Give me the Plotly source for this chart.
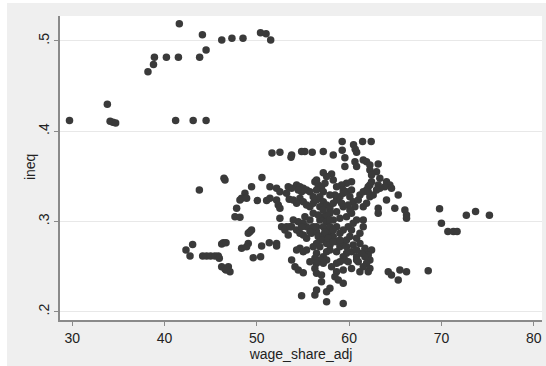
import plotly.graph_objects as go

# upper group
x_upper = [29.7, 33.8, 34.1, 34.4, 34.7, 38.2, 38.8, 38.9, 40.2, 41.6, 41.5, 41.2,
           43.1, 44.5, 43.8, 44.1, 44.5, 46.2, 47.3, 48.5, 50.4, 51.0, 51.5]
y_upper = [.412, .430, .411, .410, .409, .466, .474, .482, .482, .519, .482, .412,
           .412, .412, .482, .507, .490, .501, .503, .503, .509, .508, .501]

# main cluster
x_main = [59.25, 61.46, 62.39, 60.48, 60.66, 60.81, 59.25, 59.54, 58.28, 57.2, 56.0, 55.2,
          54.85, 53.77, 53.7, 52.5, 51.64, 61.53, 61.89, 62.25, 63.15, 60.63, 59.54, 60.81,
          62.25, 62.97, 62.43, 63.33, 57.2, 58.1, 46.44, 46.55, 50.55, 62.43, 62.25, 62.07,
          61.89, 64.05, 64.41, 64.59, 63.87, 65.32, 63.15, 63.33, 60.26, 59.72, 59.18, 58.64,
          59.36, 56.29, 56.65, 57.01, 56.47, 57.2, 57.38, 54.31, 54.67, 55.03, 55.39, 55.75,
          54.85, 54.49, 53.4, 53.77, 53.22, 53.51, 51.42, 52.14, 52.5, 49.43, 48.71, 48.35,
          48.17, 48.89, 50.05, 51.06, 51.42, 52.14, 52.32, 52.5, 47.81, 47.63, 48.17, 49.43,
          49.25, 49.07, 46.37, 46.19, 46.66, 48.35, 49.07, 48.89, 50.52, 51.35, 52.14, 52.14,
          42.32, 43.04, 42.76, 44.13, 44.56, 44.99, 45.46, 45.82, 45.93, 46.19, 46.55, 46.91,
          47.09, 46.66, 49.61, 50.41, 52.5, 52.68, 53.22, 53.77, 53.04, 53.4, 54.31, 54.67,
          55.03, 55.39, 55.93, 56.47, 56.65, 57.2, 57.56, 57.92, 58.28, 57.01, 57.56, 57.92,
          58.64, 56.47, 56.11, 55.39, 54.67, 54.31, 55.03, 56.47, 57.2, 56.29, 56.83, 57.56,
          57.92, 58.64, 59.0, 59.36, 59.72, 60.08, 60.26, 59.9, 60.44, 60.81, 61.53, 61.53,
          61.17, 60.81, 61.17, 61.71, 62.07, 62.43, 62.07, 62.25, 61.71, 61.35, 60.81, 60.26,
          59.72, 59.36, 59.54, 59.9, 60.99, 61.89, 62.25, 62.07, 61.17, 60.26, 59.36, 58.64,
          58.46, 58.82, 59.36, 57.2, 56.47, 56.29, 56.47, 53.77, 54.13, 54.49, 55.03, 57.01,
          57.92, 57.56, 56.47, 56.29, 57.56, 54.85, 59.36, 64.24, 64.59, 65.5, 66.22, 65.32,
          68.57, 54.67, 55.03, 55.39, 55.75, 56.11, 56.47, 56.83, 57.2, 57.56, 57.92, 58.28,
          58.64, 59.0, 59.36, 59.72, 60.08, 60.44, 60.63, 59.36, 58.64, 57.92, 57.2, 56.83,
          57.56, 58.28, 59.0, 59.72, 60.26, 56.11, 55.75, 55.39, 55.03, 54.49, 53.95, 53.58,
          56.47, 57.2, 57.92, 58.64, 59.36, 59.0, 58.28, 57.56, 61.53, 61.89, 62.25, 62.61,
          62.97, 61.17, 60.99, 61.53, 63.15, 63.15, 64.95, 66.04, 66.22, 66.22, 64.05, 57.56,
          56.47, 58.28, 56.83, 57.2, 56.65, 57.92, 57.38, 57.74, 58.28, 56.83, 57.56, 59.0,
          59.72, 60.44, 60.81, 56.11, 55.75, 54.85, 55.21, 56.11, 58.46, 59.18, 59.9, 60.08,
          62.07, 60.26, 57.92, 54.31, 53.95, 60.81, 61.53, 59.0, 58.1, 57.01, 58.64, 55.75,
          43.77, 69.8, 70.0, 70.7, 71.3, 71.7, 72.7, 73.7, 75.2]
y_main = [.3885, .3885, .3885, .385, .380, .3766, .379, .3707, .3737, .3774, .3766, .3774,
          .3774, .3737, .3711, .3766, .3759, .3682, .3663, .3626, .3637, .3663, .3608, .3608,
          .357, .3552, .3515, .3478, .3541, .3526, .3478, .346, .3486, .3441, .3404, .3386,
          .3349, .3441, .3404, .3367, .3386, .3293, .3404, .3367, .3441, .3423, .3404, .3386,
          .3349, .3441, .3404, .3386, .3349, .333, .3423, .3404, .3386, .3367, .3349, .333,
          .333, .3349, .3386, .3367, .3312, .3245, .3386, .3367, .333, .3386, .3312, .3256,
          .3238, .3256, .3231, .3231, .3256, .3238, .3183, .3146, .3146, .3053, .3046, .2905,
          .2887, .2868, .2765, .275, .2765, .2702, .2757, .272, .2728, .2765, .2757, .2728,
          .2684, .2746, .2617, .2617, .2617, .2617, .2617, .2617, .2591, .2499, .2473, .2499,
          .2443, .2462, .2599, .261, .3035, .2942, .2942, .2942, .2905, .285, .2905, .2868,
          .285, .2813, .2868, .2887, .2832, .285, .2905, .2868, .2832, .2795, .2757, .2739,
          .2776, .2757, .272, .2684, .2702, .2684, .2665, .2647, .261, .2591, .2573, .2573,
          .2684, .2665, .272, .2757, .2795, .2832, .2905, .2942, .2979, .3016, .3016, .2942,
          .2868, .2813, .2757, .2702, .2665, .2684, .2628, .2573, .261, .2647, .261, .2665,
          .2647, .261, .2573, .2554, .2554, .2536, .248, .2443, .2443, .248, .2462, .2443,
          .2388, .235, .2314, .2536, .2536, .248, .2425, .2573, .2499, .2462, .2432, .2332,
          .2259, .2222, .224, .2185, .2111, .2177, .2092, .2443, .2406, .2462, .2443, .235,
          .2454, .3256, .3219, .3183, .3164, .3201, .3238, .3275, .3219, .3183, .3146, .3201,
          .3238, .3275, .3312, .333, .3275, .3219, .3164, .3164, .3109, .309, .3053, .3016,
          .2998, .3016, .3035, .3053, .309, .309, .3016, .2942, .2979, .2998, .3016, .2942,
          .2942, .2942, .2942, .2942, .2905, .2868, .2905, .3072, .3164, .3201, .3275, .3293,
          .3349, .3293, .3238, .333, .3146, .309, .3146, .3127, .3072, .3035, .3238, .3497,
          .346, .346, .3164, .3127, .3072, .3016, .2887, .2813, .2776, .272, .2665, .2795,
          .272, .2739, .2684, .2942, .2887, .2942, .3053, .3275, .3293, .3201, .3183, .3127,
          .333, .3349, .3293, .3201, .3238, .2573, .2499, .2554, .2499, .2406, .2536, .2554,
          .335, .314, .298, .289, .289, .289, .307, .311, .307]

x_vals = x_upper + x_main
y_vals = y_upper + y_main

x_ticks = [30, 40, 50, 60, 70, 80]
y_ticks = [0.2, 0.3, 0.4, 0.5]
y_ticktext = [".2", ".3", ".4", ".5"]

fig = go.Figure()
fig.add_trace(go.Scatter(
    x=x_vals, y=y_vals, mode="markers",
    marker=dict(size=7.5, color="#3a3a3a", line=dict(width=0)),
    hoverinfo="skip", showlegend=False,
))

font = dict(family="Liberation Sans, Arial, sans-serif", size=14, color="#222222")

fig.update_layout(
    width=546, height=366,
    margin=dict(l=60, r=4, t=16, b=46),
    paper_bgcolor="#efefef",
    plot_bgcolor="white",
    font=font,
    showlegend=False,
    shapes=[
        dict(type="rect", xref="paper", yref="paper",
             x0=-0.13, x1=-0.11, y0=-0.2, y1=1.1,
             fillcolor="white", line=dict(width=0), layer="above"),
        dict(type="rect", xref="paper", yref="paper",
             x0=-0.13, x1=1.05, y0=1.0428, y1=1.1,
             fillcolor="white", line=dict(width=0), layer="above"),
    ],
    annotations=[dict(text="ineq", xref="paper", yref="paper", x=-0.0622, y=0.503,
                      textangle=-90, showarrow=False, font=font,
                      xanchor="center", yanchor="middle")],
)
fig.update_xaxes(
    range=[28.67, 80.9], tickvals=x_ticks, ticks="outside", ticklen=4,
    tickcolor="#8a8a8a", showline=True, linecolor="#8a8a8a", linewidth=1.5,
    showgrid=False, zeroline=False, tickfont=font,
    title=dict(text="wage_share_adj", font=font, standoff=2),
)
fig.update_yaxes(
    range=[0.1908, 0.5277], tickvals=y_ticks, ticktext=y_ticktext, tickangle=-90,
    ticks="outside", ticklen=4, tickcolor="#8a8a8a", showline=True,
    linecolor="#8a8a8a", linewidth=1.5, showgrid=True, gridcolor="#e8e8e8",
    gridwidth=1, zeroline=False, tickfont=font,
)

fig.write_html("out.html")
